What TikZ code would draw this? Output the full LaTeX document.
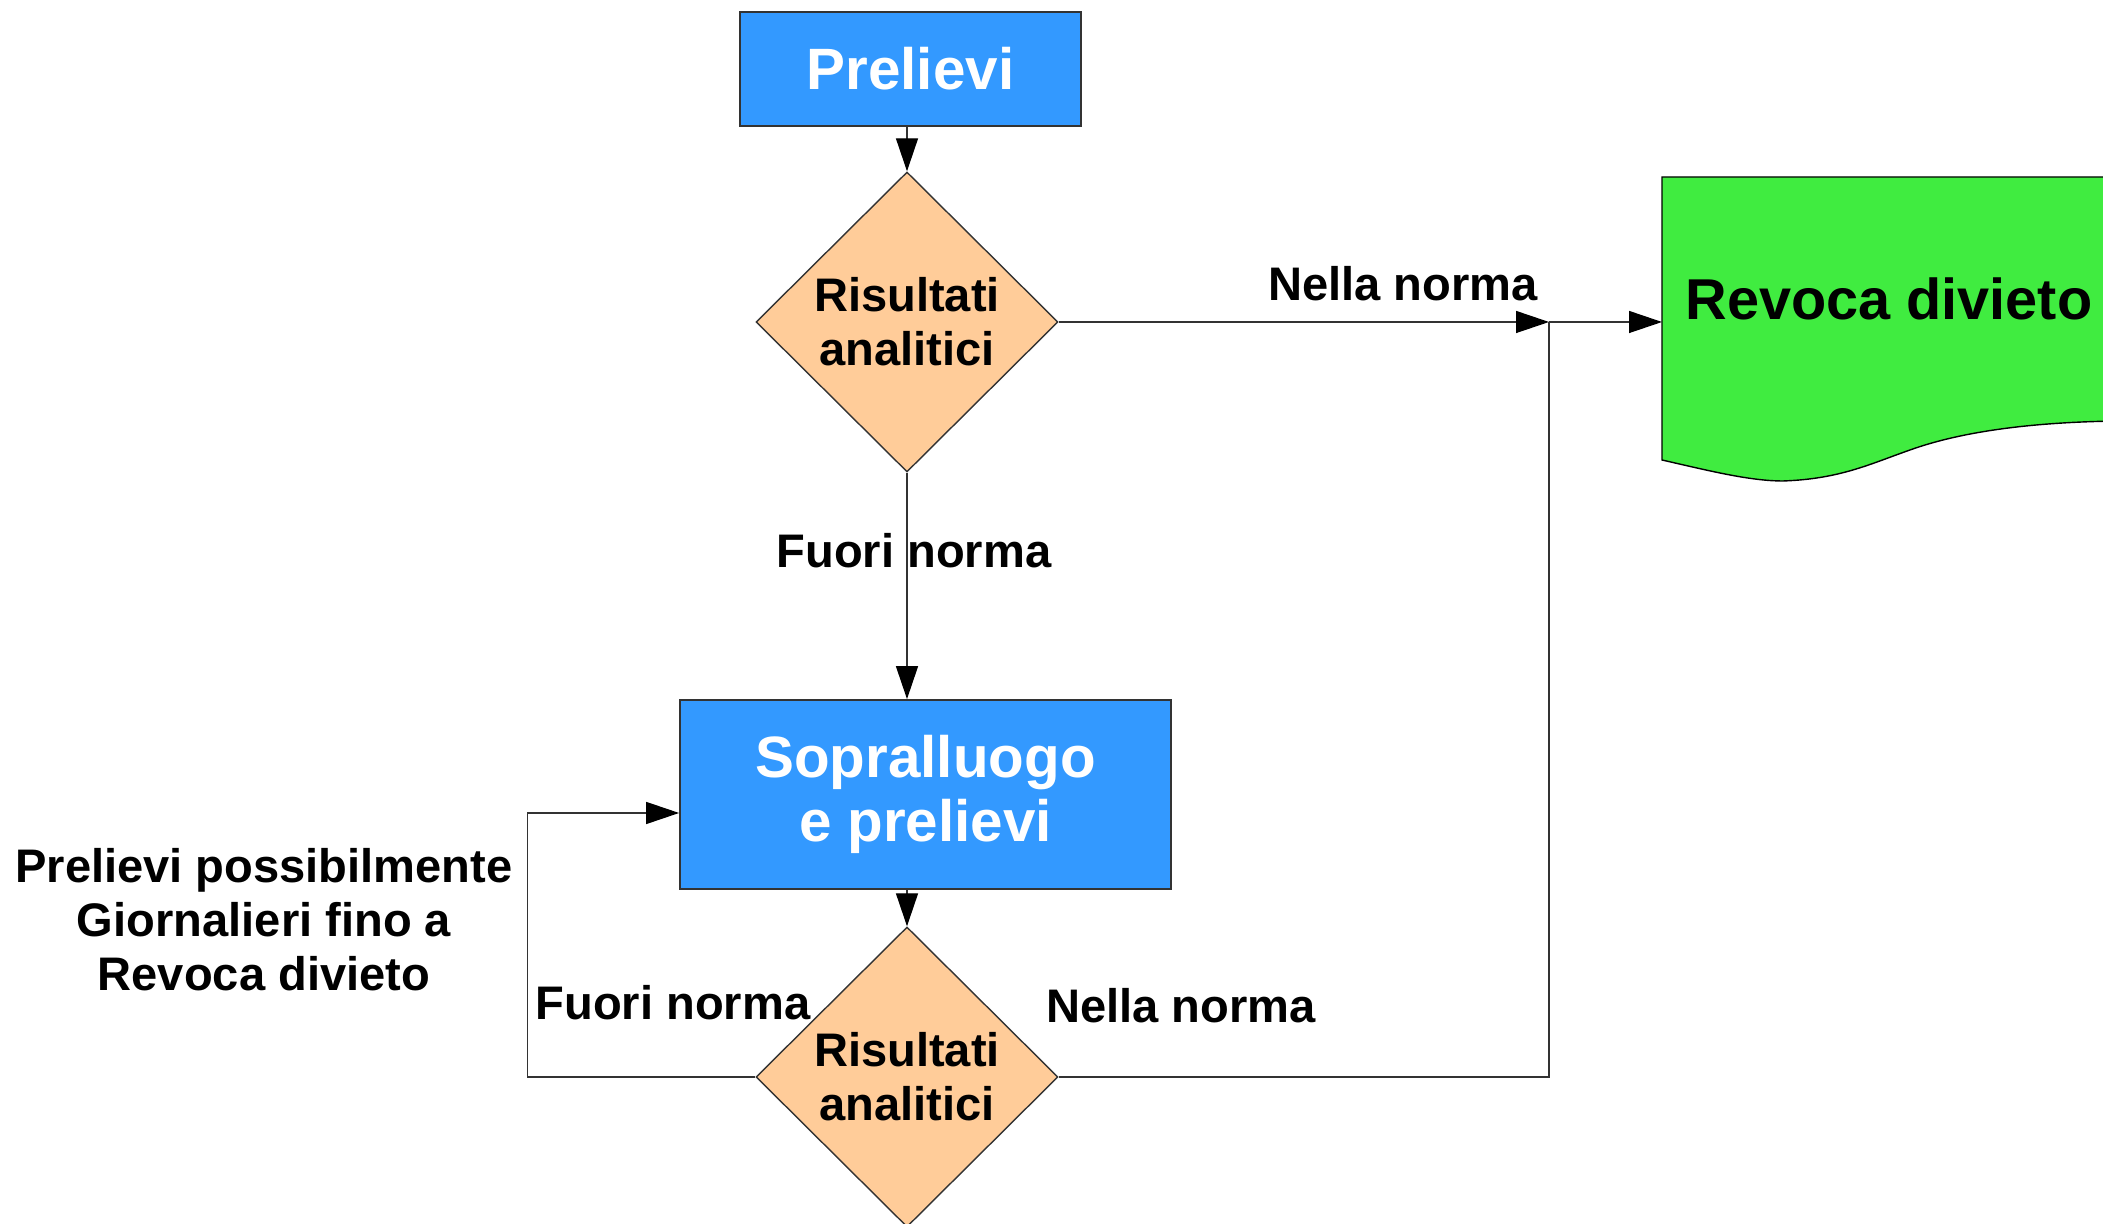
\documentclass[tikz,border=0pt]{standalone}
\usepackage{fontspec}
\setmainfont{Liberation Sans}
\usetikzlibrary{shapes.geometric,arrows.meta}
\definecolor{bluprel}{RGB}{51,153,255}
\definecolor{pesca}{RGB}{255,204,153}
\definecolor{verde}{RGB}{64,236,64}
\tikzset{
  blocco/.style={draw=black!80, line width=0.5pt, fill=bluprel, text=white,
    font=\bfseries\fontsize{16.6}{18.2}\selectfont, align=center, inner sep=0pt},
  decisione/.style={diamond, draw=black!80, line width=0.4pt, fill=pesca,
    font=\bfseries\fontsize{13.4}{15.4}\selectfont, align=center, inner sep=0pt,
    minimum width=3.02cm, minimum height=3cm},
  etichetta/.style={font=\bfseries\fontsize{13.4}{15.4}\selectfont, align=center, inner sep=0pt},
  freccia/.style={-{Triangle[length=3.3mm,width=2.2mm,color=black]}, line width=0.4pt, draw=black!80}
}
\begin{document}
\begin{tikzpicture}
            \useasboundingbox (0,0) rectangle (21.03,12.24);
            \node [blocco, minimum width=3.41cm, minimum height=1.14cm] (prel) at (9.105,11.55) {Prelievi};
            \node [decisione] (ris1) at (9.07,9.02) {Risultati\\analitici};
            \node [blocco, minimum width=4.91cm, minimum height=1.89cm] (sopr) at (9.255,4.295) {Sopralluogo\\e prelievi};
            \node [decisione] (ris2) at (9.07,1.47) {Risultati\\analitici};
            \begin{scope}
                \clip (0,0) rectangle (21.03,12.24);
                \draw [fill=verde, line width=0.4pt] (21.2,10.47) -- (16.62,10.47) -- (16.62,7.64)
                    .. controls (17.1,7.53) and (17.5,7.43) .. (17.83,7.43)
                    .. controls (18.4,7.45) and (18.7,7.6) .. (19.1,7.74)
                    .. controls (19.6,7.92) and (20.3,8.02) .. (21.2,8.03);
            \end{scope}
            \node [etichetta, font=\bfseries\fontsize{16.4}{18.2}\selectfont] (revoca) at (18.89,9.25) {Revoca divieto};
            \coordinate (doc) at (16.62,9.02);
            \coordinate (nodo) at (15.49,9.02);
            \draw [freccia] (ris1.north |- prel.south) -- (ris1.north);
            \draw [freccia] (ris1.east) -- (nodo);
            \draw [freccia] (nodo) -- (doc);
            \draw [freccia] (ris1.south) -- (ris1.south |- sopr.north);
            \draw [freccia] (ris2.north |- sopr.south) -- (ris2.north);
            \draw [line width=0.4pt, draw=black!80] (ris2.east) -| (nodo);
            \draw [freccia] (ris2.west) -- ++(-2.28,0) |- ([yshift=-1.85mm]sopr.west);
            \node [etichetta] (nella1) at (14.03,9.40) {Nella norma};
            \node [etichetta] (fuori1) at (9.14,6.73) {Fuori norma};
            \node [etichetta] (fuori2) at (6.73,2.21) {Fuori norma};
            \node [etichetta] (nella2) at (11.81,2.18) {Nella norma};
            \node [etichetta] (nota) at (2.64,3.04) {Prelievi possibilmente\\Giornalieri fino a\\Revoca divieto};
        \end{tikzpicture}
\end{document}
